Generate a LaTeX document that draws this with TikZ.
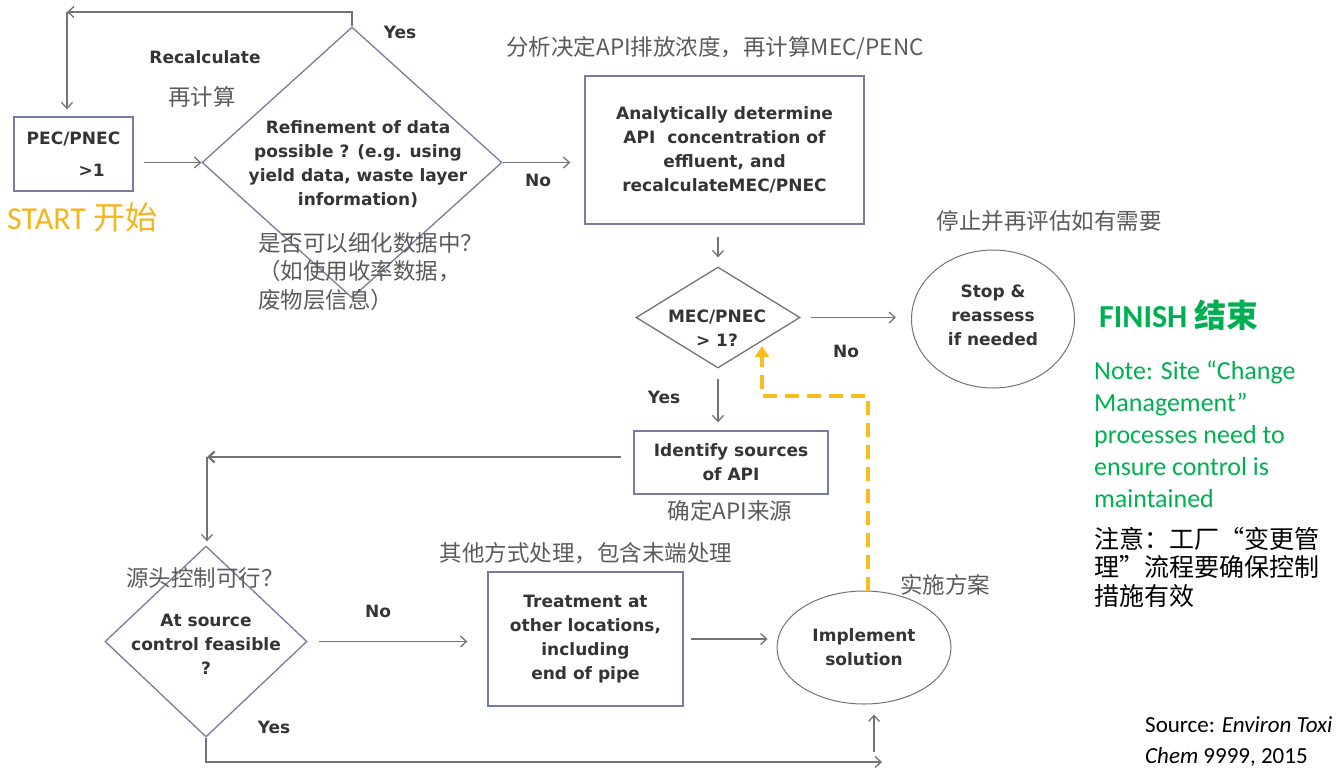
\documentclass[tikz,border=0pt]{standalone}
\usepackage{fontspec}
\usepackage{tikz}
\usetikzlibrary{shapes.geometric,arrows.meta}
\setmainfont{Carlito}
\newfontfamily\vfont{DejaVu Sans}
\newfontfamily\cjk{Noto Sans CJK SC}
\definecolor{boxline}{RGB}{118,124,160}
\definecolor{conn}{RGB}{115,115,115}
\definecolor{lbltext}{RGB}{52,52,52}
\definecolor{cngray}{RGB}{90,90,90}
\definecolor{startorange}{RGB}{246,180,28}
\definecolor{finishgreen}{RGB}{0,176,80}
\definecolor{dashyellow}{RGB}{251,188,30}

\begin{document}
\begin{tikzpicture}[x=1pt,y=-1pt,
  every node/.style={inner sep=0pt},
  lbl/.style={font=\vfont\bfseries\fontsize{17}{24}\selectfont,text=lbltext,align=center},
  cnnote/.style={font=\cjk\fontsize{22.5}{28.5}\selectfont,text=cngray},
  procbox/.style={draw=boxline,line width=1.3pt},
  decision/.style={diamond,draw=boxline,line width=1.3pt},
  terminal/.style={ellipse,draw=conn,line width=1pt},
  arr/.style={draw=conn,line width=1.3pt,-{Straight Barb[length=6pt,width=11pt]}},
  dasharr/.style={draw=dashyellow,line width=3.5pt,dash pattern=on 14pt off 8pt,
    -{Triangle[length=11pt,width=14pt]}}]
\useasboundingbox (0,0) rectangle (1343,769);

% boxes and decisions
\node[procbox,lbl,align=left,minimum width=119pt,minimum height=74pt] (pec) at (73.5,154) {PEC/PNEC\\[8pt]\hspace*{52pt}>1};
\node[decision,minimum width=300pt,minimum height=271pt] (refine) at (352,162.5) {};
\node[lbl] (refinetxt) at (358,164) {Refinement of data\\possible ? (e.g. using\\yield data, waste layer\\information)};
\node[procbox,lbl,minimum width=279pt,minimum height=148pt] (ana) at (724.5,150) {Analytically determine\\API\ \ concentration of\\effluent, and\\recalculateMEC/PNEC};
\node[decision,draw=conn,minimum width=164pt,minimum height=101pt] (mec) at (718,317.5) {};
\node[lbl] (mectxt) at (717,328) {MEC/PNEC\\> 1?};
\node[terminal,minimum width=163pt,minimum height=138pt] (stop) at (993,319) {};
\node[lbl] (stoptxt) at (993,315) {Stop \&\\reassess\\if needed};
\node[procbox,lbl,minimum width=194pt,minimum height=63pt] (ident) at (731,462.5) {Identify sources\\of API};
\node[decision,minimum width=202pt,minimum height=191pt] (atsrc) at (206,641.5) {};
\node[lbl] (atsrctxt) at (206,644) {At source\\control feasible\\?};
\node[procbox,lbl,minimum width=195pt,minimum height=134pt] (treat) at (585.5,639) {Treatment at\\other locations,\\including\\end of pipe};
\node[terminal,lbl,minimum width=174pt,minimum height=113pt] (impl) at (864,647.5) {Implement\\solution};

% labels
\node[lbl] (yes1) at (400,32) {Yes};
\node[lbl] (recalc) at (205,57) {Recalculate};
\node[cnnote] (recalccn) at (202,97) {再计算};
\node[lbl] (no1) at (538,180) {No};
\node[font=\fontsize{32}{36}\selectfont,text=startorange,anchor=west] (start) at (7,217) {START {\cjk 开始}};
\node[cnnote,align=left,anchor=north west] (refinecn) at (258,232) {是否可以细化数据中？\\（如使用收率数据，\\废物层信息）};
\node[cnnote] (anacn) at (715,48) {分析决定API排放浓度，再计算MEC/PENC};
\node[cnnote] (stopcn) at (1049,221) {停止并再评估如有需要};
\node[lbl] (no2) at (846,351) {No};
\node[lbl] (yes2) at (664,397) {Yes};
\node[cnnote] (identcn) at (730,511) {确定API来源};
\node[cnnote] (atsrccn) at (205,578) {源头控制可行？};
\node[lbl] (no3) at (378,611) {No};
\node[cnnote] (treatcn) at (586,553) {其他方式处理，包含末端处理};
\node[lbl] (yes3) at (274,727) {Yes};
\node[cnnote] (implcn) at (945,585) {实施方案};
\node[font=\bfseries\fontsize{32}{36}\selectfont,text=finishgreen,anchor=west] (finish) at (1099,315) {FINISH {\cjk 结束}};
\node[font=\fontsize{26}{32}\selectfont,text=finishgreen,align=left,anchor=north west] (note) at (1094,361) {Note: Site “Change\\Management”\\processes need to\\ensure control is\\maintained};
\node[font=\cjk\fontsize{25}{28.5}\selectfont,align=left,anchor=north west] (notecn) at (1094,527) {注意：工厂“变更管\\理”流程要确保控制\\措施有效};
\node[font=\fontsize{23}{31}\selectfont,align=left,anchor=north west] (source) at (1145,716) {Source: \textit{Environ Toxi}\\\textit{Chem} \textup{9999, 2015}};

% connectors
\coordinate (loopcorner) at (67,12);
\draw[arr] (refine.north) |- (loopcorner);
\draw[arr,shorten >=7pt] (loopcorner) -- (loopcorner |- pec.north);
\draw[arr,shorten <=10pt] (pec.east |- refine.west) -- (refine.west);
\draw[arr,shorten >=14pt] (refine.east) -- (refine.east -| ana.west);
\draw[arr,shorten <=12pt,shorten >=9pt] (mec.north |- ana.south) -- (mec.north);
\draw[arr,shorten <=10pt,shorten >=15pt] (mec.east) -- (mec.east -| stop.west);
\draw[arr,shorten <=10pt,shorten >=8pt] (mec.south) -- (mec.south |- ident.north);
\coordinate (srccorner) at (207,457);
\draw[arr,line width=2.2pt,shorten <=12pt] (ident.west |- srccorner) -- (srccorner);
\draw[arr,shorten >=4pt] (srccorner) -- (srccorner |- atsrc.north);
\draw[arr,shorten <=11pt,shorten >=20pt] (atsrc.east) -- (atsrc.east -| treat.west);
\draw[arr,shorten <=7pt,shorten >=9pt] (treat.east) -- (treat.east -| impl.west);
\coordinate (btmend) at (882,762);
\draw[arr] (atsrc.south) |- (btmend);
\coordinate (upstart) at (874,752);
\draw[arr,shorten >=10pt] (upstart) -- (upstart |- impl.south);
\coordinate (dashturn) at (762,396);
\coordinate (dashtip) at (762,346);
\draw[dasharr] ([xshift=4pt]impl.north) |- (dashturn) -- (dashtip);
\end{tikzpicture}
\end{document}
